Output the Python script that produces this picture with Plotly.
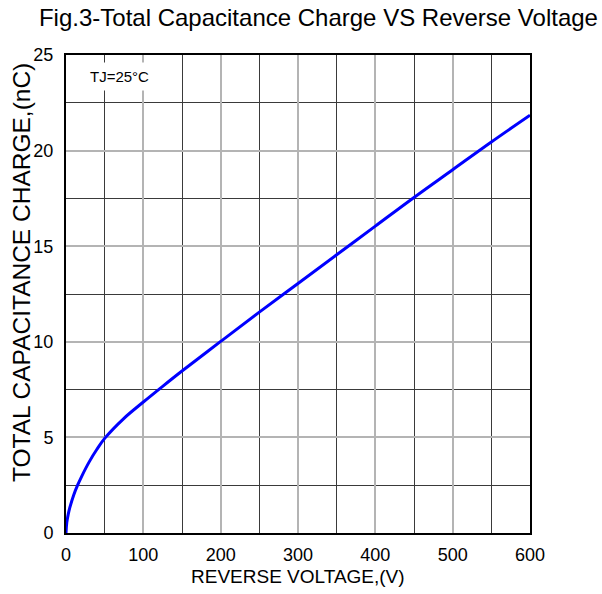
import plotly.graph_objects as go

voltage = [0, 1, 3, 5, 10, 15, 20, 30, 40, 50, 75, 100, 125, 150, 200, 250, 300, 350, 400, 450, 500, 550, 600]
charge = [0, 0.54, 1.0, 1.34, 1.99, 2.5, 2.94, 3.72, 4.38, 4.95, 6.0, 6.85, 7.67, 8.47, 10.02, 11.55, 13.05, 14.55, 16.05, 17.55, 19.0, 20.45, 21.85]

x_ticks = [0, 100, 200, 300, 400, 500, 600]
y_ticks = [0, 5, 10, 15, 20, 25]

title_text = "Fig.3-Total Capacitance Charge VS Reverse Voltage"
x_title = "REVERSE VOLTAGE,(V)"
y_title = "TOTAL CAPACITANCE CHARGE,(nC)"
note_text = "TJ=25\u00b0C"

font_family = "Liberation Sans, Arial, sans-serif"

fig = go.Figure()
fig.add_trace(go.Scatter(
    x=voltage, y=charge, mode="lines",
    line=dict(color="#0000ff", width=3, shape="spline", smoothing=1.0),
    hoverinfo="skip", showlegend=False,
))

axis_common = dict(
    showline=True, linecolor="black", linewidth=2, mirror=True,
    showgrid=True, gridcolor="#b4b4b4", gridwidth=1.5,
    zeroline=False, ticks="", automargin=False,
    tickfont=dict(family=font_family, size=18, color="black"),
)

fig.update_xaxes(
    range=[0, 600], tickvals=x_ticks,
    minor=dict(dtick=50, tick0=0, showgrid=True, gridcolor="#3a3a3a", gridwidth=1.2),
    ticklabelstandoff=4,
    **axis_common,
)
fig.update_yaxes(
    range=[0, 25], tickvals=y_ticks,
    minor=dict(dtick=2.5, tick0=0, showgrid=True, gridcolor="#3a3a3a", gridwidth=1.2),
    ticklabelstandoff=7,
    **axis_common,
)

fig.add_annotation(
    x=0.5, y=-0.09, xref="paper", yref="paper", xanchor="center", yanchor="middle",
    text=x_title, showarrow=False,
    font=dict(family=font_family, size=19, color="black"),
)
fig.add_annotation(
    x=-0.097, y=0.546, xref="paper", yref="paper", xanchor="center", yanchor="middle",
    text=y_title, showarrow=False, textangle=-90,
    font=dict(family=font_family, size=24.5, color="black"),
)
fig.add_annotation(
    x=0.115, y=0.955, xref="paper", yref="paper", xanchor="center", yanchor="middle",
    text=note_text, showarrow=False, bgcolor="white",
    font=dict(family=font_family, size=15, color="black"),
    borderpad=5,
)

fig.update_layout(
    width=602, height=594,
    margin=dict(l=66, r=72, t=55, b=61, autoexpand=False),
    paper_bgcolor="white", plot_bgcolor="white",
    title=dict(text=title_text, x=0.529, xanchor="center", xref="container",
               y=0.97, yanchor="middle", yref="container", automargin=False,
               font=dict(family=font_family, size=24, color="black")),
)

fig.write_html("out.html", config={"displayModeBar": False},
               post_script="document.body.style.margin='0';")
